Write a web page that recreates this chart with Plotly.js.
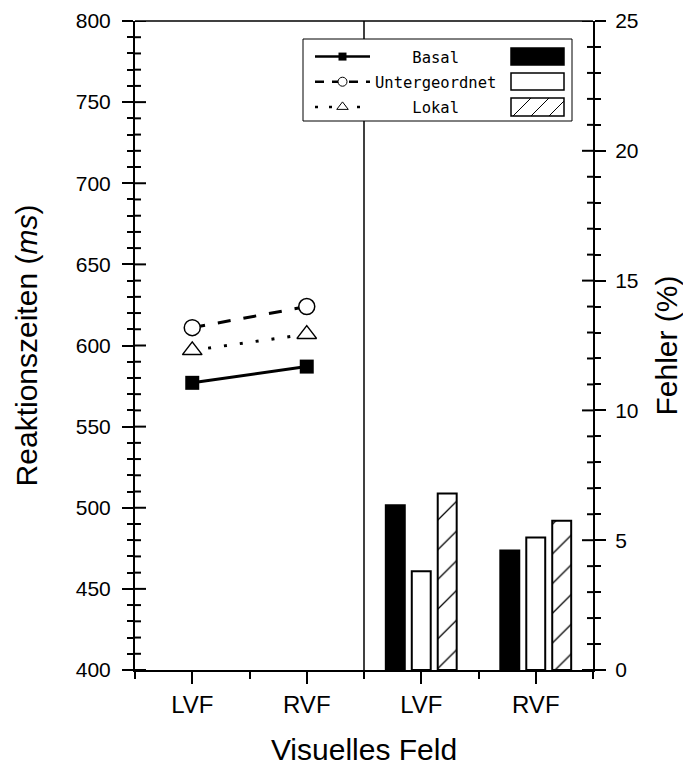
<!DOCTYPE html>
<html>
<head>
<meta charset="utf-8">
<script src="https://cdn.plot.ly/plotly-3.0.1.min.js"></script>
<style>html,body{margin:0;padding:0;background:#fff;}#chart{width:683px;height:766px;}</style>
</head>
<body>
<div id="chart"></div>
<script>
// ---- data ----
const categories = ['LVF', 'RVF', 'LVF', 'RVF'];
const seriesNames = ['Basal', 'Untergeordnet', 'Lokal'];
const rtBasal = [577, 587];        // Reaktionszeiten (ms), LVF / RVF
const rtUntergeordnet = [611, 624];
const rtLokal = [597, 607];
const errBasal = [6.35, 4.6];      // Fehler (%), LVF / RVF
const errUntergeordnet = [3.8, 5.1];
const errLokal = [6.8, 5.75];

// category positions on the numeric x axis (0.5, 1.5, 2.5, 3.5)
const catPos = categories.map((c, i) => i + 0.5);
const rtX = catPos.slice(0, 2);
const errX = catPos.slice(2, 4);

const FONT = 'Liberation Sans, Arial, sans-serif';
const MONO = 'DejaVu Sans Mono, monospace';

// legend labels padded so they appear centred (monospace font)
const legendLabels = ['    Basal', 'Untergeordnet', '    Lokal'];

const lineStyles = [
  { color: 'black', width: 3 },
  { color: 'black', width: 3, dash: '13px,13px' },
  { color: 'black', width: 3, dash: '3px,13px' }
];
const markerStyles = [
  { symbol: 'square', size: 14, color: 'black' },
  { symbol: 'circle', size: 16, color: 'white', line: { color: 'black', width: 1.5 } },
  { symbol: 'triangle-up', size: 17, color: 'white', line: { color: 'black', width: 1.5 } }
];
const legendLineStyles = [
  { color: 'black', width: 2.5 },
  { color: 'black', width: 2.5, dash: '9px,8px' },
  { color: 'black', width: 2.5, dash: '3px,11px' }
];
const legendMarkers = [
  { symbol: 'square', size: 8, color: 'black' },
  { symbol: 'circle', size: 9, color: 'white', line: { color: 'black', width: 1 } },
  { symbol: 'triangle-up', size: 10, color: 'white', line: { color: 'black', width: 1 } }
];
const rtSeries = [rtBasal, rtUntergeordnet, rtLokal];
const errSeries = [errBasal, errUntergeordnet, errLokal];

const traces = [];
rtSeries.forEach((vals, i) => {
  traces.push({ x: rtX, y: vals, name: seriesNames[i], type: 'scatter', mode: 'lines+markers',
    xaxis: 'x', yaxis: 'y', line: lineStyles[i], marker: markerStyles[i], showlegend: false });
});
const barColors = ['black', 'white', 'white'];
errSeries.forEach((vals, i) => {
  const marker = { color: barColors[i], line: { color: 'black', width: 2 } };
  if (i === 2) marker.pattern = { shape: '/', size: 21, solidity: 0.06, fgcolor: 'black', bgcolor: 'white', fillmode: 'replace' };
  traces.push({ x: errX, y: vals, name: seriesNames[i], type: 'bar', xaxis: 'x', yaxis: 'y2', showlegend: false, marker: marker });
});
// legend entries (no data points of their own)
seriesNames.forEach((n, i) => {
  traces.push({ x: [null], y: [null], name: legendLabels[i], type: 'scatter', mode: 'lines+markers',
    xaxis: 'x', yaxis: 'y', line: legendLineStyles[i], marker: legendMarkers[i],
    legendgroup: 'g' + i, showlegend: true, hoverinfo: 'skip' });
});

// plot area in pixels
const L = 135, R = 593, T = 21, B = 670;
const W = 683, H = 766;
const px = x => (x - L) / (R - L);
const py = y => (B - y) / (B - T);
const MAJ = 11, MIN = 6;

// frame, separator, legend box + swatches (decorations)
const shapes = [];
shapes.push({ type: 'line', xref: 'paper', yref: 'paper', x0: 0, x1: 1, y0: 1, y1: 1, line: { color: 'black', width: 1.5 } });
shapes.push({ type: 'line', xref: 'x', yref: 'paper', x0: 2, x1: 2, y0: 0, y1: 1, line: { color: 'black', width: 1.5 } });
shapes.push({ type: 'rect', xref: 'paper', yref: 'paper', x0: px(303), x1: px(572), y0: py(121), y1: py(39),
  fillcolor: 'white', line: { color: 'black', width: 1 }, layer: 'above' });
const swRows = [[48, 65], [73, 90], [98, 116]];
swRows.forEach((r, i) => {
  shapes.push({ type: 'rect', xref: 'paper', yref: 'paper', x0: px(511), x1: px(564), y0: py(r[1]), y1: py(r[0]),
    fillcolor: barColors[i], line: { color: 'black', width: 1.5 }, layer: 'above' });
});
[[513, 116, 531, 98], [531, 116, 549, 98], [549, 116, 564, 101]].forEach(s => {
  shapes.push({ type: 'line', xref: 'paper', yref: 'paper', x0: px(s[0]), y0: py(s[1]), x1: px(s[2]), y1: py(s[3]),
    line: { color: 'black', width: 1 }, layer: 'above' });
});
// inner halves of the crossing axis tick marks (placed on the axes' own scales)
function innerTicks(yref, lo, hi, minorStep, majorStep, anchor, dir) {
  const n = Math.round((hi - lo) / minorStep);
  for (let k = 0; k <= n; k++) {
    const v = lo + k * minorStep;
    const len = (Math.round(v / minorStep) % Math.round(majorStep / minorStep) === 0) ? MAJ : MIN;
    shapes.push({ type: 'line', xref: 'paper', yref: yref, xsizemode: 'pixel', xanchor: anchor,
      x0: 0, x1: dir * len, y0: v, y1: v, line: { color: 'black', width: 2 }, layer: 'above' });
  }
}
innerTicks('y', 400, 800, 10, 50, 0, 1);
innerTicks('y2', 0, 25, 1, 5, 1, -1);

const tickCommon = { tickcolor: 'black', tickwidth: 2, showgrid: false, zeroline: false };

const layout = {
  width: W, height: H,
  margin: { l: L, r: W - R, t: T, b: H - B, pad: 0 },
  paper_bgcolor: 'white', plot_bgcolor: 'white',
  font: { family: FONT, color: 'black' },
  showlegend: true,
  barmode: 'group', bargap: 0.32, bargroupgap: 0.27,
  xaxis: Object.assign({}, tickCommon, {
    range: [0, 4], tickmode: 'array', tickvals: catPos, ticktext: categories,
    ticks: 'outside', ticklen: 12, showline: true, linecolor: 'black', linewidth: 2,
    tickfont: { family: FONT, size: 24 },
    minor: { tickmode: 'linear', tick0: 0, dtick: 1, ticks: 'outside', ticklen: 7, tickwidth: 2, tickcolor: 'black' },
    title: { text: 'Visuelles Feld', font: { family: FONT, size: 30 }, standoff: 24 }
  }),
  yaxis: Object.assign({}, tickCommon, {
    range: [400, 800], dtick: 50, tick0: 400, ticks: 'outside', ticklen: MAJ,
    showline: true, linecolor: 'black', linewidth: 2, side: 'left', anchor: 'x',
    tickfont: { family: FONT, size: 21 }, ticklabelstandoff: 7,
    minor: { dtick: 10, ticks: 'outside', ticklen: MIN, tickwidth: 2, tickcolor: 'black' },
    title: { text: 'Reaktionszeiten (<i>ms</i>)', font: { family: FONT, size: 30 }, standoff: 29 }
  }),
  yaxis2: Object.assign({}, tickCommon, {
    range: [0, 25], dtick: 5, tick0: 0, ticks: 'outside', ticklen: MAJ,
    showline: true, linecolor: 'black', linewidth: 2, side: 'right', overlaying: 'y', anchor: 'x',
    tickfont: { family: FONT, size: 21 }, ticklabelstandoff: 5,
    minor: { dtick: 1, ticks: 'outside', ticklen: MIN, tickwidth: 2, tickcolor: 'black' },
    title: { text: 'Fehler (%)', font: { family: FONT, size: 30 }, standoff: 19 }
  }),
  legend: {
    x: px(310), y: py(40), xanchor: 'left', yanchor: 'top',
    bgcolor: 'rgba(0,0,0,0)', borderwidth: 0,
    font: { family: MONO, size: 15.5, color: 'black' },
    itemwidth: 55, tracegroupgap: 2, itemsizing: 'trace', itemclick: false, itemdoubleclick: false
  },
  shapes: shapes
};

Plotly.newPlot('chart', traces, layout, { displayModeBar: false, staticPlot: true });
</script>
</body>
</html>
